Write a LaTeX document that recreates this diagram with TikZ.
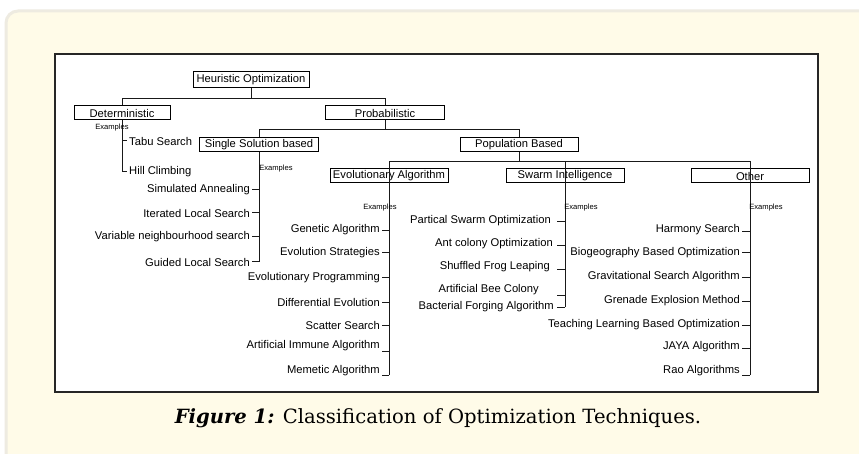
\documentclass[tikz,border=0pt]{standalone}
\usepackage{fontspec}
\setmainfont{Liberation Sans}
\newfontfamily\capfont{DejaVu Serif}
\usetikzlibrary{positioning}
\definecolor{cream}{HTML}{FFFBE8}
\definecolor{creamline}{HTML}{EEEBE1}
\tikzset{
  box/.style={draw=black,line width=1pt,fill=white,minimum width=118pt,minimum height=14pt,inner sep=0pt,font=\fontsize{11.2}{13}\selectfont},
  leaf/.style={inner xsep=2pt,inner ysep=0pt,font=\fontsize{11.2}{13}\selectfont},
  exlabel/.style={inner sep=0pt,font=\fontsize{7.6}{9}\selectfont},
  link/.style={line width=1pt,black!90},
}

\begin{document}
\begin{tikzpicture}[x=1pt,y=-1pt]
\useasboundingbox (0,0) rectangle (859,454);
% background panels
\fill[white] (0,0) rectangle (859,454);
\draw[creamline,line width=3pt,fill=cream,rounded corners=12pt] (6,11) rectangle (880,480);
\draw[black!85,line width=1.3pt,fill=white] (55,54) rectangle (818,392);
%
\node (heu) [box,minimum width=116pt,minimum height=16pt] at (251,80) {Heuristic Optimization};
\node (det) [box,minimum width=96pt] at (122,113) {Deterministic};
\node (prob) [box,minimum width=119pt] at (385,113) {Probabilistic};
\node (ss) [box,minimum width=119pt] at (259,145) {Single Solution based};
\node (pop) [box] at (519,145) {Population Based};
\node (ea) [box] at (389,176) {Evolutionary Algorithm};
\node (si) [box] at (565,176) {Swarm Intelligence};
\node (ot) [box] at (750,176) {Other};
%
\coordinate (det-end) at (122,172);
\coordinate (ss-end) at (259,262);
\coordinate (ea-end) at (389,375);
\coordinate (si-end) at (565,307);
\coordinate (ot-end) at (750,375);
%
\draw[link] (heu.south) -- ++(0,10) -| (det.north);
\draw[link] (heu.south) -- ++(0,10) -| (prob.north);
\draw[link] (prob.south) -- ++(0,9) -| (ss.north);
\draw[link] (prob.south) -- ++(0,9) -| (pop.north);
\draw[link] (pop.south) -- ++(0,9) -| (ea-end);
\draw[link] (pop.south) -- ++(0,9) -| (si-end);
\draw[link] (pop.south) -- ++(0,9) -| (ot-end);
\draw[link] (det.south) -- (det-end);
\draw[link] (ss.south) -- (ss-end);
%
\node (exd) [exlabel] at (112,128) {Examples};
\node (exs) [exlabel] at (276,169) {Examples};
\node (exe) [exlabel] at (380,208) {Examples};
\node (exw) [exlabel] at (581,208) {Examples};
\node (exo) [exlabel] at (766,208) {Examples};
%
% deterministic
\node (tabu) [leaf,anchor=west] at (127,141) {Tabu Search};
\node (hill) [leaf,anchor=west] at (127,172) {Hill Climbing};
\draw[link] (tabu.west -| det-end) -- (tabu.west);
\draw[link] (det-end) -- (hill.west);
%
% single solution
\node (sa) [leaf,anchor=east] at (252,190) {Simulated Annealing};
\node (ils) [leaf,anchor=east] at (252,213) {Iterated Local Search};
\node (vns) [leaf,anchor=east] at (252,237) {Variable neighbourhood search};
\node (gls) [leaf,anchor=east] at (252,262) {Guided Local Search};
\draw[link] (sa.east) -- (sa.east -| ss-end);
\draw[link] (ils.east) -- (ils.east -| ss-end);
\draw[link] (vns.east) -- (vns.east -| ss-end);
\draw[link] (gls.east) -- (ss-end);
%
% evolutionary
\node (ga) [leaf,anchor=east] at (382,230) {Genetic Algorithm};
\node (es) [leaf,anchor=east] at (382,253) {Evolution Strategies};
\node (ep) [leaf,anchor=east] at (382,278) {Evolutionary Programming};
\node (de) [leaf,anchor=east] at (382,302) {Differential Evolution};
\node (sc) [leaf,anchor=east] at (382,325) {Scatter Search};
\node (aia) [leaf,anchor=east] at (382,346) {Artificial Immune Algorithm};
\node (mem) [leaf,anchor=east] at (382,371) {Memetic Algorithm};
\draw[link] ([yshift=-1pt]ga.east -| ea-end) -- ++(-7,0);
\draw[link] (es.east -| ea-end) -- ++(-7,0);
\draw[link] (ep.east -| ea-end) -- ++(-7,0);
\draw[link] (de.east -| ea-end) -- ++(-7,0);
\draw[link] (sc.east -| ea-end) -- ++(-7,0);
\draw[link] ([yshift=-5pt]aia.east -| ea-end) -- ++(-7,0);
\draw[link] (ea-end) -- ++(-7,0);
%
% swarm
\node (pso) [leaf,anchor=east] at (553,221) {Partical Swarm Optimization};
\node (aco) [leaf,anchor=east] at (555,244) {Ant colony Optimization};
\node (sfl) [leaf,anchor=east] at (552,267) {Shuffled Frog Leaping};
\node (abc) [leaf,anchor=east] at (541,290) {Artificial Bee Colony};
\node (bfa) [leaf,anchor=east] at (556,307) {Bacterial Forging Algorithm};
\draw[link] ([yshift=-1pt]pso.east -| si-end) -- ++(-8,0);
\draw[link] ([yshift=-2pt]aco.east -| si-end) -- ++(-8,0);
\draw[link] ([yshift=-3pt]sfl.east -| si-end) -- ++(-8,0);
\draw[link] ([yshift=-5pt]abc.east -| si-end) -- ++(-8,0);
\draw[link] (si-end) -- ++(-8,0);
%
% other
\node (hs) [leaf,anchor=east] at (742,230) {Harmony Search};
\node (bbo) [leaf,anchor=east] at (742,253) {Biogeography Based Optimization};
\node (gsa) [leaf,anchor=east] at (742,277) {Gravitational Search Algorithm};
\node (gem) [leaf,anchor=east] at (742,301) {Grenade Explosion Method};
\node (tlbo) [leaf,anchor=east] at (742,325) {Teaching Learning Based Optimization};
\node (jaya) [leaf,anchor=east] at (742,347) {JAYA Algorithm};
\node (rao) [leaf,anchor=east] at (742,371) {Rao Algorithms};
\draw[link] ([yshift=-2pt]hs.east -| ot-end) -- ++(-8,0);
\draw[link] (bbo.east -| ot-end) -- ++(-8,0);
\draw[link] ([yshift=-1pt]gsa.east -| ot-end) -- ++(-8,0);
\draw[link] (gem.east -| ot-end) -- ++(-8,0);
\draw[link] (tlbo.east -| ot-end) -- ++(-8,0);
\draw[link] ([yshift=-1pt]jaya.east -| ot-end) -- ++(-8,0);
\draw[link] (ot-end) -- ++(-8,0);
%
\node (cap) [anchor=base] at (438,423) {\capfont\fontsize{19.6}{22}\selectfont\textbf{\textit{Figure 1:}} Classification of Optimization Techniques.};
\end{tikzpicture}
\end{document}
